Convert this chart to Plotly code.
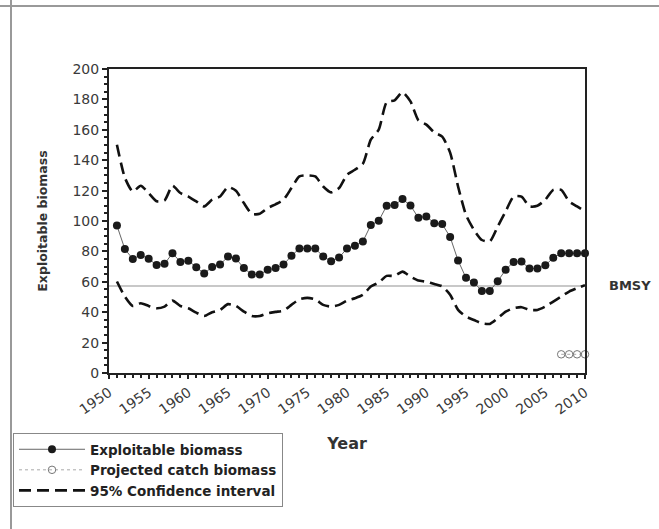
import plotly.graph_objects as go

# ---------------- data ----------------
years = list(range(1951, 2011))
biomass = [97.0, 81.5, 75.0, 77.7, 75.1, 71.0, 71.8, 78.8, 73.1, 73.8,
           69.6, 65.4, 69.8, 71.3, 76.6, 75.3, 69.0, 64.8, 64.8, 67.9,
           69.0, 71.3, 77.1, 81.9, 81.9, 81.9, 76.6, 73.6, 76.0, 81.9,
           83.7, 86.5, 97.3, 100.1, 110.0, 110.5, 114.4, 110.2, 102.1, 103.0,
           98.6, 98.0, 89.5, 74.0, 62.6, 59.5, 54.0, 54.0, 60.4, 67.9,
           73.1, 73.3, 68.7, 68.7, 70.9, 75.8, 78.8, 78.8, 78.8, 78.8]
upper_ci = [150.2, 128.5, 119.4, 123.2, 118.4, 113.0, 113.5, 123.2, 118.4, 116.1,
            112.9, 109.6, 114.0, 116.1, 122.3, 119.9, 111.8, 104.7, 104.7, 108.5,
            111.0, 114.0, 121.7, 129.3, 130.0, 129.3, 122.7, 118.8, 121.7, 130.4,
            133.7, 137.7, 153.5, 160.1, 178.1, 179.4, 184.7, 178.7, 166.2, 163.4,
            158.3, 155.5, 145.0, 122.7, 104.0, 94.2, 87.5, 86.5, 96.4, 106.3,
            116.1, 116.0, 109.6, 110.0, 114.0, 120.5, 120.5, 112.9, 109.6, 106.3]
lower_ci = [60.2, 50.3, 44.1, 45.9, 44.1, 42.6, 43.7, 47.6, 44.1, 42.6,
            39.7, 37.5, 40.0, 41.5, 45.3, 44.1, 40.4, 37.5, 37.5, 39.3,
            40.2, 41.0, 44.8, 48.5, 49.4, 48.5, 44.8, 43.7, 44.8, 47.6,
            49.2, 51.4, 56.9, 59.5, 63.9, 63.9, 66.7, 63.4, 60.8, 60.1,
            58.6, 57.0, 51.5, 41.5, 37.1, 34.9, 32.7, 32.3, 36.0, 40.4,
            42.6, 43.3, 41.5, 41.5, 43.7, 47.0, 50.3, 53.6, 55.8, 57.8]
proj_years = [2007, 2008, 2009, 2010]
proj_catch = [12.3, 12.3, 12.3, 12.3]
bmsy_years = [1950, 2010]
bmsy_value = 57.3
x_ticks = list(range(1950, 2011, 5))
y_ticks = list(range(0, 201, 20))

# ---------------- layout geometry (pixels) ----------------
W, H = 659, 529
L, R, T, B = 109, 585, 69, 373   # plot area edges


def px(xp):
    return (xp - L) / (R - L)


def py(yp):
    return (B - yp) / (B - T)


FONT = "DejaVu Sans, Liberation Sans, Arial, sans-serif"

fig = go.Figure()

fig.add_trace(go.Scatter(
    x=bmsy_years, y=[bmsy_value] * len(bmsy_years), mode="lines",
    line=dict(color="#c8c8c8", width=2), showlegend=False, hoverinfo="skip"))

fig.add_trace(go.Scatter(
    x=years, y=upper_ci, mode="lines", name="95% Confidence interval",
    legendgroup="ci", legendrank=3,
    line=dict(color="#111111", width=2.6, dash="12px,6px", shape="spline", smoothing=0.6)))
fig.add_trace(go.Scatter(
    x=years, y=lower_ci, mode="lines", name="95% Confidence interval",
    legendgroup="ci", showlegend=False,
    line=dict(color="#111111", width=2.6, dash="12px,6px", shape="spline", smoothing=0.6)))

fig.add_trace(go.Scatter(
    x=years, y=biomass, mode="lines+markers", name="Exploitable biomass",
    legendrank=1, cliponaxis=False,
    line=dict(color="#666666", width=1),
    marker=dict(symbol="circle", size=8, color="#1a1a1a")))

fig.add_trace(go.Scatter(
    x=proj_years, y=proj_catch, mode="lines+markers", name="Projected catch biomass",
    legendrank=2, cliponaxis=False,
    line=dict(color="#aaaaaa", width=1, dash="dot"),
    marker=dict(symbol="circle-open", size=7.5, color="#777777", line=dict(width=1))))

fig.update_layout(
    width=W, height=H,
    margin=dict(l=L, r=W - R, t=T, b=H - B, autoexpand=False),
    paper_bgcolor="white", plot_bgcolor="white",
    font=dict(family=FONT, color="#333333"),
    showlegend=True,
    legend=dict(
        x=px(13), y=py(433), xanchor="left", yanchor="top",
        bordercolor="#888888", borderwidth=1, bgcolor="white",
        font=dict(family=FONT, size=13.5, color="#222222", weight="bold"),
        traceorder="normal", itemwidth=66, tracegroupgap=0),
    xaxis=dict(
        range=[1950, 2010], tickvals=x_ticks, tickangle=-35,
        tickfont=dict(family=FONT, size=14, color="#3a3a3a"),
        ticks="outside", ticklen=4, tickwidth=1.5, tickcolor="#222222",
        minor=dict(dtick=1, ticks="outside", ticklen=3, tickcolor="#222222", showgrid=False),
        showline=True, linecolor="#222222", linewidth=2, mirror=True,
        showgrid=False, zeroline=False,
        title=dict(text="Year", standoff=21,
                   font=dict(family=FONT, size=16, color="#333333", weight="bold"))),
    yaxis=dict(
        range=[0, 200], tickvals=y_ticks,
        tickfont=dict(family=FONT, size=14, color="#3a3a3a"),
        ticks="outside", ticklen=5, tickwidth=1.5, tickcolor="#222222",
        minor=dict(dtick=5, ticks="outside", ticklen=3, tickcolor="#222222", showgrid=False),
        showline=True, linecolor="#222222", linewidth=2, mirror=True,
        showgrid=False, zeroline=False,
        title=dict(text="Exploitable biomass", standoff=22,
                   font=dict(family=FONT, size=12.5, color="#333333", weight="bold"))),
    annotations=[dict(
        text="BMSY", xref="paper", yref="y", x=px(630), y=bmsy_value,
        xanchor="center", yanchor="middle", showarrow=False,
        font=dict(family=FONT, size=13, color="#333333", weight="bold"))],
    shapes=[
        dict(type="line", xref="paper", yref="paper",
             x0=px(0), x1=px(W), y0=py(6), y1=py(6),
             line=dict(color="#999999", width=2)),
        dict(type="line", xref="paper", yref="paper",
             x0=px(11), x1=px(11), y0=py(0), y1=py(H),
             line=dict(color="#999999", width=2)),
    ],
)

fig.write_html("out.html", config={"displayModeBar": False},
               post_script="document.body.style.margin='0';document.body.style.padding='0';")
